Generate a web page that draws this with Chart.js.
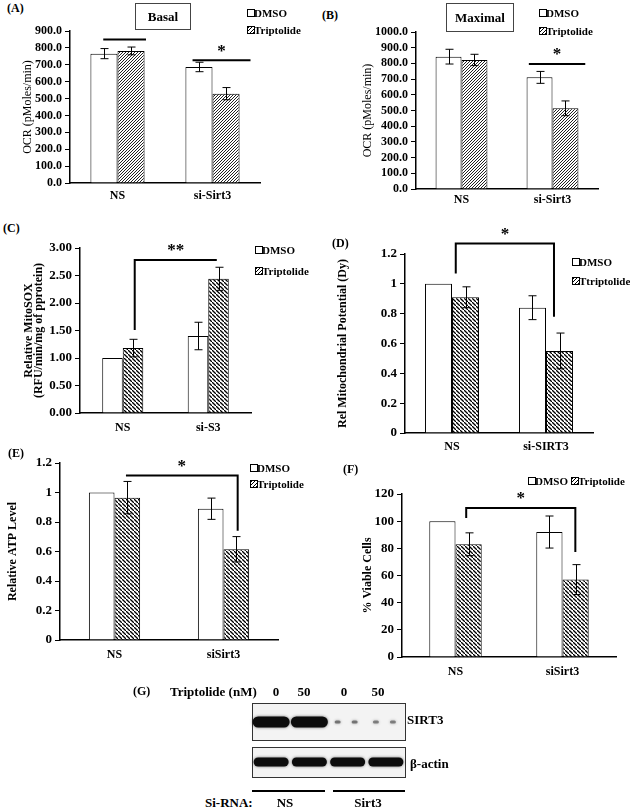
<!DOCTYPE html>
<html>
<head>
<meta charset="utf-8">
<script src="https://cdn.jsdelivr.net/npm/chart.js@4.4.0/dist/chart.umd.min.js"></script>
<style>
body{margin:0;background:#fff;width:630px;height:809px;position:relative;overflow:hidden;font-family:'Liberation Serif','Times New Roman',serif;color:#000;}
canvas{position:absolute;}
.t{position:absolute;white-space:nowrap;line-height:1;font-weight:bold;font-size:12px;transform:translateY(-50%);}
.c{transform:translate(-50%,-50%);}
.box{position:absolute;border:1px solid #444;display:flex;align-items:center;justify-content:center;font-weight:bold;font-size:13px;box-sizing:border-box;}
.sw{position:absolute;width:6px;height:6px;border:1px solid #000;background:#fff;transform:translateY(-50%);}
.sw.h{background:repeating-linear-gradient(-45deg,#000 0 1px,#fff 1px 2.5px);}
.rule{position:absolute;height:2px;background:#000;}
</style>
</head>
<body>
<script>
// (A) basal OCR
const catsA = ['NS', 'si-Sirt3'];
const basalDmso = [766, 687];
const basalDmsoErr = [30, 28];
const basalTrip = [782, 529];
const basalTripErr = [23, 36];

// (B) maximal OCR
const catsB = ['NS', 'si-Sirt3'];
const maxDmso = [843, 711];
const maxDmsoErr = [47, 38];
const maxTrip = [822, 514];
const maxTripErr = [36, 47];

// (C) MitoSOX
const catsC = ['NS', 'si-S3'];
const soxDmso = [1.00, 1.40];
const soxDmsoErr = [0, 0.25];
const soxTrip = [1.18, 2.44];
const soxTripErr = [0.16, 0.21];

// (D) mitochondrial potential
const catsD = ['NS', 'si-SIRT3'];
const mmpDmso = [1.0, 0.84];
const mmpDmsoErr = [0, 0.08];
const mmpTrip = [0.91, 0.55];
const mmpTripErr = [0.07, 0.12];

// (E) ATP
const catsE = ['NS', 'siSirt3'];
const atpDmso = [1.0, 0.89];
const atpDmsoErr = [0, 0.072];
const atpTrip = [0.965, 0.615];
const atpTripErr = [0.11, 0.086];

// (F) viability
const catsF = ['NS', 'siSirt3'];
const viaDmso = [100, 92];
const viaDmsoErr = [0, 11.8];
const viaTrip = [83, 57];
const viaTripErr = [8.4, 11];

// (G) blot
const laneDose = ['0', '50', '0', '50'];
const sirt3Signal = [1, 1, 0.15, 0.12];
const actinSignal = [1, 1, 1, 1];

Chart.defaults.font.family = "'Liberation Serif', 'Times New Roman', serif";
Chart.defaults.color = '#000';

function txt(x, y, s, cls, size, weight) {
  const d = document.createElement('div');
  d.className = 't' + (cls ? ' ' + cls : '');
  d.textContent = s;
  d.style.left = x + 'px';
  d.style.top = y + 'px';
  if (size) d.style.fontSize = size + 'px';
  if (weight) d.style.fontWeight = weight;
  document.body.appendChild(d);
  return d;
}
function swatch(x, y, hatched) {
  const d = document.createElement('div');
  d.className = 'sw' + (hatched ? ' h' : '');
  d.style.left = x + 'px';
  d.style.top = y + 'px';
  document.body.appendChild(d);
}
function legend(x, y, name, hatched) {
  swatch(x, y, hatched);
  txt(x + 7, y, name, '', 11);
}
function titleBox(x, y, w, h, s) {
  const d = document.createElement('div');
  d.className = 'box';
  Object.assign(d.style, {left: x + 'px', top: y + 'px', width: w + 'px', height: h + 'px'});
  d.textContent = s;
  document.body.appendChild(d);
}

function hatch(ctx, dir, color, gap, lw) {
  const c = document.createElement('canvas');
  c.width = c.height = gap;
  const g = c.getContext('2d');
  g.fillStyle = '#fff';
  g.fillRect(0, 0, gap, gap);
  g.strokeStyle = color;
  g.lineWidth = lw;
  g.beginPath();
  if (dir > 0) {
    g.moveTo(-1, gap + 1); g.lineTo(gap + 1, -1);
    g.moveTo(-2, 1); g.lineTo(1, -2);
    g.moveTo(gap - 1, gap + 2); g.lineTo(gap + 2, gap - 1);
  } else {
    g.moveTo(-1, -1); g.lineTo(gap + 1, gap + 1);
    g.moveTo(gap - 1, -2); g.lineTo(gap + 2, 1);
    g.moveTo(-2, gap - 1); g.lineTo(1, gap + 2);
  }
  g.stroke();
  return ctx.createPattern(c, 'repeat');
}

const errorBars = {
  id: 'errorBars',
  afterDatasetsDraw(chart) {
    const ctx = chart.ctx, ys = chart.scales.y;
    chart.data.datasets.forEach((ds, di) => {
      if (!ds.err) return;
      chart.getDatasetMeta(di).data.forEach((bar, i) => {
        const e = ds.err[i];
        if (!e) return;
        const v = ds.data[i];
        const top = ys.getPixelForValue(v + e), bot = ys.getPixelForValue(v - e);
        const x = Math.round(bar.x) + 0.5;
        ctx.save();
        ctx.strokeStyle = '#000';
        ctx.lineWidth = 1;
        ctx.beginPath();
        ctx.moveTo(x, top); ctx.lineTo(x, bot);
        ctx.moveTo(x - 4, top); ctx.lineTo(x + 4, top);
        ctx.moveTo(x - 4, bot); ctx.lineTo(x + 4, bot);
        ctx.stroke();
        ctx.restore();
      });
    });
  }
};

function bracketPlugin(items) {
  return {
    id: 'brackets',
    afterDatasetsDraw(chart) {
      const ctx = chart.ctx, xs = chart.scales.x, ys = chart.scales.y;
      items.forEach(b => {
        const x1 = xs.getPixelForValue(b.from), x2 = xs.getPixelForValue(b.to);
        const yl = ys.getPixelForValue(b.level);
        ctx.save();
        ctx.strokeStyle = '#000';
        ctx.lineWidth = 2;
        ctx.beginPath();
        if (b.leftEnd != null) { ctx.moveTo(x1, ys.getPixelForValue(b.leftEnd)); ctx.lineTo(x1, yl); }
        else ctx.moveTo(x1, yl);
        ctx.lineTo(x2, yl);
        if (b.rightEnd != null) ctx.lineTo(x2, ys.getPixelForValue(b.rightEnd));
        ctx.stroke();
        if (b.mark) {
          ctx.font = "bold 17px 'Liberation Serif', serif";
          ctx.fillStyle = '#000';
          ctx.textAlign = 'center';
          ctx.textBaseline = 'middle';
          ctx.fillText(b.mark, (x1 + x2) / 2, yl - 9);
        }
        ctx.restore();
      });
    }
  };
}

function barPanel(p) {
  const padR = 6;
  const cv = document.createElement('canvas');
  const left = p.area.l - p.yW, top = p.area.t - p.padTop;
  const w = Math.round(p.area.r - p.area.l + p.yW + padR);
  const h = Math.round(p.padTop + p.area.b - p.area.t + p.xH);
  cv.width = w; cv.height = h;
  Object.assign(cv.style, {left: left + 'px', top: top + 'px', width: w + 'px', height: h + 'px'});
  document.body.appendChild(cv);
  const ctx = cv.getContext('2d');
  const pattern = p.hatchDir > 0 ? hatch(ctx, 1, '#222', 3, 1) : hatch(ctx, -1, '#000', 4, 1.3);
  new Chart(ctx, {
    type: 'bar',
    data: {
      labels: p.cats,
      datasets: [
        {data: p.dm, err: p.dmE, backgroundColor: '#fff', borderColor: '#000', borderWidth: 1,
         categoryPercentage: p.catPct, barPercentage: 1},
        {data: p.tr, err: p.trE, backgroundColor: pattern, borderColor: '#000', borderWidth: 1,
         categoryPercentage: p.catPct, barPercentage: 1}
      ]
    },
    options: {
      responsive: false,
      animation: false,
      devicePixelRatio: 1,
      layout: {padding: {top: p.padTop, right: padR, left: 0, bottom: 0}},
      plugins: {legend: {display: false}, tooltip: {enabled: false}},
      scales: {
        x: {
          grid: {drawOnChartArea: false, drawTicks: false},
          border: {color: '#000', width: 1.5},
          ticks: {color: '#000', font: {size: 12, weight: 'bold'}, padding: p.xPad, maxRotation: 0},
          afterFit: s => { s.height = p.xH; }
        },
        y: {
          min: 0, max: p.yMax,
          grid: {drawOnChartArea: false, drawTicks: true, tickLength: 5, color: '#000'},
          border: {color: '#000', width: 1.5},
          ticks: {stepSize: p.step, autoSkip: false, padding: 3, color: '#000',
                  font: {size: p.tickSize || 13, weight: 'bold'}, callback: p.fmt},
          title: {display: true, text: p.title, color: '#000', padding: 0,
                  font: {size: 12, weight: p.titleWeight || 'normal', lineHeight: p.titleLH || 1.2}},
          afterFit: s => { s.width = p.yW; }
        }
      }
    },
    plugins: [errorBars, bracketPlugin(p.brackets)]
  });
}

const fix1 = v => v.toFixed(1);
const fix2 = v => v.toFixed(2);
const short = v => String(+v.toFixed(1));

barPanel({area: {l: 70, t: 30.7, r: 260, b: 182.7}, yW: 49, padTop: 12, xH: 26, xPad: 6,
  cats: catsA, dm: basalDmso, dmE: basalDmsoErr, tr: basalTrip, trE: basalTripErr,
  yMax: 900, step: 100, fmt: fix1, tickSize: 12, title: 'OCR (pMoles/min)', hatchDir: 1, catPct: 0.57,
  brackets: [{from: -0.15, to: 0.3, level: 849}, {from: 0.79, to: 1.4, level: 727, mark: '*'}]});

barPanel({area: {l: 416, t: 32, r: 598, b: 189}, yW: 55, padTop: 12, xH: 24, xPad: 4,
  cats: catsB, dm: maxDmso, dmE: maxDmsoErr, tr: maxTrip, trE: maxTripErr,
  yMax: 1000, step: 100, fmt: fix1, tickSize: 12, title: 'OCR (pMoles/min)', hatchDir: 1, catPct: 0.57,
  brackets: [{from: 0.74, to: 1.36, level: 796, mark: '*'}]});

barPanel({area: {l: 80, t: 248, r: 251, b: 413}, yW: 56, padTop: 26, xH: 26, xPad: 8,
  cats: catsC, dm: soxDmso, dmE: soxDmsoErr, tr: soxTrip, trE: soxTripErr,
  yMax: 3, step: 0.5, fmt: fix2, title: ['Relative MitoSOX', '(RFU/min/mg of pprotein)'],
  titleWeight: 'bold', titleLH: 0.85, hatchDir: -1, catPct: 0.48,
  brackets: [{from: 0.14, to: 1.1, level: 2.78, leftEnd: 1.51, mark: '**'}]});

barPanel({area: {l: 405, t: 254, r: 593, b: 433}, yW: 69, padTop: 32, xH: 26, xPad: 7,
  cats: catsD, dm: mmpDmso, dmE: mmpDmsoErr, tr: mmpTrip, trE: mmpTripErr,
  yMax: 1.2, step: 0.2, fmt: short, title: 'Rel Mitochondrial Potential (Dy)', titleWeight: 'bold',
  hatchDir: -1, catPct: 0.575,
  brackets: [{from: 0.04, to: 1.085, level: 1.27, leftEnd: 1.07, rightEnd: 0.78, mark: '*'}]});

barPanel({area: {l: 60, t: 463, r: 278, b: 639.7}, yW: 54, padTop: 12, xH: 26, xPad: 8,
  cats: catsE, dm: atpDmso, dmE: atpDmsoErr, tr: atpTrip, trE: atpTripErr,
  yMax: 1.2, step: 0.2, fmt: short, title: 'Relative ATP Level', titleWeight: 'bold',
  hatchDir: -1, catPct: 0.47,
  brackets: [{from: 0.105, to: 1.13, level: 1.115, rightEnd: 0.74, mark: '*'}]});

barPanel({area: {l: 402, t: 494, r: 616, b: 657}, yW: 41, padTop: 12, xH: 26, xPad: 8,
  cats: catsF, dm: viaDmso, dmE: viaDmsoErr, tr: viaTrip, trE: viaTripErr,
  yMax: 120, step: 20, fmt: v => String(v), title: '% Viable Cells', titleWeight: 'bold',
  hatchDir: -1, catPct: 0.49,
  brackets: [{from: 0.1, to: 1.12, level: 109.7, leftEnd: 102.3, rightEnd: 77.3, mark: '*'}]});

// (G) western blot drawn as thick rounded line segments on a lane/row grid
(function () {
  const cv = document.createElement('canvas');
  cv.width = 177; cv.height = 104;
  Object.assign(cv.style, {left: '240px', top: '690px', width: '177px', height: '104px'});
  document.body.appendChild(cv);
  const rows = [{from: 0.53, to: 1.45}, {from: 1.63, to: 2.38}];
  const bands = [];
  const addRow = (signal, row) => signal.forEach((s, i) => {
    const lane = i + 1;
    const strong = s > 0.5;
    bands.push({
      data: [{x: lane - (strong ? 0.34 : 0.3), y: row}, {x: lane + (strong ? 0.34 : 0.3), y: row}],
      borderColor: strong ? '#0c0c0c' : 'rgba(60,60,60,' + (0.3 + s * 2) + ')',
      borderWidth: strong ? (row === 1 ? 11 : 9) : 3,
      borderDash: strong ? [] : [3, 14],
      borderCapStyle: 'round',
      pointRadius: 0,
      clip: false
    });
  });
  addRow(sirt3Signal, 1);
  addRow(actinSignal, 2);
  new Chart(cv.getContext('2d'), {
    type: 'line',
    data: {datasets: bands},
    options: {
      responsive: false, animation: false, devicePixelRatio: 1,
      layout: {padding: 12},
      plugins: {legend: {display: false}, tooltip: {enabled: false}},
      scales: {
        x: {type: 'linear', min: 0.5, max: 4.5, display: false},
        y: {type: 'linear', min: 0.5, max: 2.5, reverse: true, display: false}
      }
    },
    plugins: [{
      id: 'film',
      beforeDatasetsDraw(chart) {
        const ctx = chart.ctx, xs = chart.scales.x, ys = chart.scales.y;
        rows.forEach(r => {
          const x0 = xs.getPixelForValue(0.5), x1 = xs.getPixelForValue(4.5);
          const y0 = ys.getPixelForValue(r.from), y1 = ys.getPixelForValue(r.to);
          ctx.fillStyle = '#f3f3f3';
          ctx.fillRect(x0, y0, x1 - x0, y1 - y0);
          ctx.strokeStyle = '#333';
          ctx.lineWidth = 1;
          ctx.strokeRect(Math.round(x0) + 0.5, Math.round(y0) + 0.5, Math.round(x1 - x0), Math.round(y1 - y0));
        });
        ctx.save();
        ctx.shadowColor = 'rgba(0,0,0,0.55)';
        ctx.shadowBlur = 3;
      },
      afterDatasetsDraw(chart) { chart.ctx.restore(); }
    }]
  });
  const laneX = [276, 304, 344, 378];
  laneDose.forEach((d, i) => txt(laneX[i], 691, d, 'c', 13));
})();

// panel letters, title boxes, legends
txt(7, 8, '(A)');
txt(322, 15, '(B)');
txt(3, 228, '(C)');
txt(332, 243, '(D)');
txt(8, 453, '(E)');
txt(343, 469, '(F)');
txt(133, 691, '(G)');

titleBox(135, 3, 56, 27, 'Basal');
titleBox(446, 3, 68, 29, 'Maximal');

legend(247, 13, 'DMSO', false);
legend(247, 30, 'Triptolide', true);
legend(539, 13, 'DMSO', false);
legend(539, 31, 'Triptolide', true);
legend(255, 250, 'DMSO', false);
legend(255, 271, 'Triptolide', true);
legend(572, 262, 'DMSO', false);
legend(572, 281, 'Ttriptolide', true);
legend(250, 468, 'DMSO', false);
legend(250, 484, 'Triptolide', true);
legend(528, 481, 'DMSO', false);
legend(571, 481, 'Triptolide', true);

txt(170, 691, 'Triptolide  (nM)', '', 13);
txt(407, 719, 'SIRT3', '', 13);
txt(410, 763, '\u03b2-actin', '', 13);
txt(205, 802, 'Si-RNA:', '', 13);
txt(285, 802, 'NS', 'c', 13);
txt(368, 802, 'Sirt3', 'c', 13);
[[252, 325], [333, 405]].forEach(([a, b]) => {
  const r = document.createElement('div');
  r.className = 'rule';
  Object.assign(r.style, {left: a + 'px', width: (b - a) + 'px', top: '790px'});
  document.body.appendChild(r);
});
</script>
</body>
</html>
